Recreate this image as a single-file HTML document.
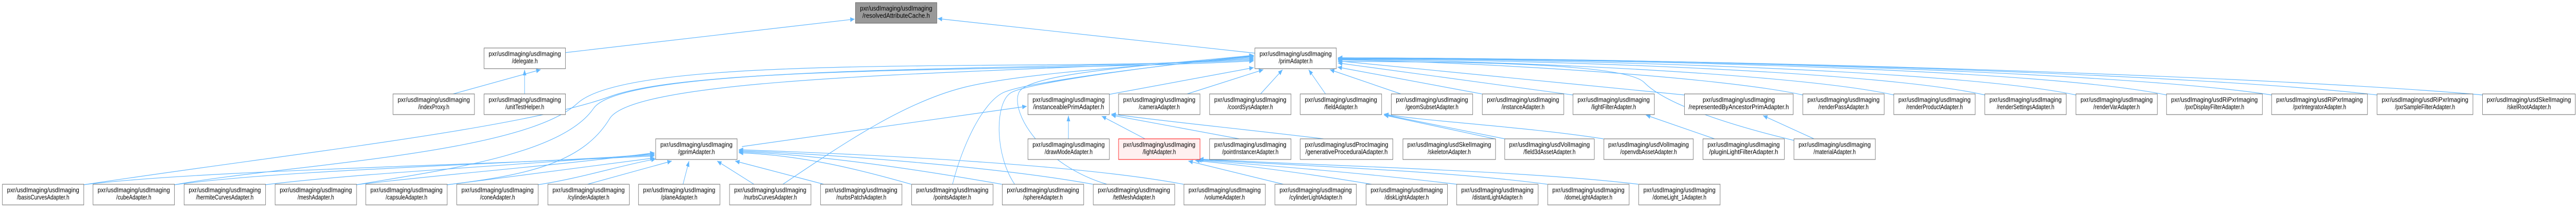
<!DOCTYPE html>
<html><head><meta charset="utf-8"><style>
html,body{margin:0;padding:0;background:#fff;width:100%;height:100%;overflow:hidden;}
svg{display:block;width:100vw;height:100vh;}
text{font-family:"Liberation Sans","DejaVu Sans",sans-serif;font-size:13px;fill:#000;}
.n{fill:#fff;stroke:#666;stroke-width:1;}
.e{fill:none;stroke:#63b8ff;stroke-width:1.2;}
</style></head><body>
<svg viewBox="0 0 6423 403" preserveAspectRatio="none" xmlns="http://www.w3.org/2000/svg">
<defs><marker id="a" markerUnits="userSpaceOnUse" markerWidth="12" markerHeight="10" refX="11" refY="4.5" orient="auto"><path d="M0,0 L11,4.5 L0,9 Z" fill="#63b8ff"/></marker></defs>
<g class="e" marker-end="url(#a)">
<path d="M1409,102 L2131,37"/>
<path d="M3129,103 L2338,36"/>
<path d="M1130,182 L1348,135"/>
<path d="M1308,182 L1308,135"/>
<path d="M2765,183 L3126,131"/>
<path d="M2960,182 L3150,135"/>
<path d="M3143,182 L3198,135"/>
<path d="M3305,182 L3263,135"/>
<path d="M3493,182 L3316,135"/>
<path d="M3695,182 L3335,130"/>
<path d="M3922,184 L3336,122"/>
<path d="M4200,184 L3336,118"/>
<path d="M4495,184 C4300,150 3700,120 3336,116"/>
<path d="M4722,184 C4500,145 3800,118 3336,115"/>
<path d="M4949,184 C4700,140 3900,116 3336,114"/>
<path d="M5176,184 C4900,138 4000,115 3336,113"/>
<path d="M5402,184 C5100,135 4100,114 3336,113"/>
<path d="M5664,184 C5300,140 4200,113 3336,112"/>
<path d="M5927,184 C5500,145 4300,113 3336,112"/>
<path d="M6190,184 C5700,150 4400,114 3336,112"/>
<path d="M1850,284 L2560,206"/>
<path d="M4473,272 C4300,240 4150,200 4100,160 S3600,120 3336,119"/>
<path d="M208,358 C700,300 1300,250 1521,187 S2600,140 3126,118"/>
<path d="M435,358 C700,320 1300,300 1440,200 S2600,140 3126,116"/>
<path d="M888,358 C1100,330 1400,300 1480,210 S2600,140 3126,114"/>
<path d="M1115,358 C1300,340 1450,320 1520,230 S2600,142 3126,112"/>
<path d="M1952,357 C2100,280 2250,200 2400,170 S2900,125 3126,110"/>
<path d="M2375,357 C2400,280 2450,200 2500,180 S2900,125 3126,109"/>
<path d="M2530,357 C2480,300 2480,200 2520,180 S2900,125 3126,108"/>
<path d="M2760,357 C2600,320 2520,220 2540,180 S2900,125 3126,107"/>
<path d="M208,358 C500,330 1200,320 1632,302"/>
<path d="M435,358 C700,330 1200,320 1632,300"/>
<path d="M661,358 C900,335 1300,320 1632,298"/>
<path d="M888,358 C1100,338 1400,320 1632,296"/>
<path d="M1115,358 C1300,340 1500,320 1632,306"/>
<path d="M1341,358 C1450,345 1550,320 1635,308"/>
<path d="M1465,357 L1675,312"/>
<path d="M1703,357 L1718,312"/>
<path d="M1880,357 L1788,312"/>
<path d="M2054,357 L1833,312"/>
<path d="M2272,357 C2150,330 2000,300 1842,296"/>
<path d="M2498,357 C2300,330 2050,300 1842,294"/>
<path d="M2725,357 C2500,325 2100,300 1842,292"/>
<path d="M2951,357 C2700,320 2200,300 1842,290"/>
<path d="M2664,269 L2664,224"/>
<path d="M2855,269 L2747,225"/>
<path d="M3090,269 L2771,223"/>
<path d="M3300,269 C3100,250 2900,235 2771,221"/>
<path d="M3200,357 L2963,312"/>
<path d="M3420,357 C3250,335 3100,320 2980,311"/>
<path d="M3632,357 C3400,335 3150,320 2985,310"/>
<path d="M3858,357 C3600,330 3200,320 2988,309"/>
<path d="M4085,357 C3800,330 3250,320 2990,308"/>
<path d="M3727,269 L3451,223"/>
<path d="M3752,269 L3451,222"/>
<path d="M3998,269 C3800,245 3550,235 3451,221"/>
<path d="M4275,269 L4104,223"/>
<path d="M4523,269 L4396,224"/>
</g>
<g>
<rect x="2133" y="5" width="203" height="40" fill="#999" stroke="#666"/>
<text x="2234.5" y="20.5" text-anchor="middle" textLength="180" lengthAdjust="spacingAndGlyphs">pxr/usdImaging/usdImaging</text>
<text x="2234.5" y="34.5" text-anchor="middle" textLength="168" lengthAdjust="spacingAndGlyphs">/resolvedAttributeCache.h</text>

<rect class="n" x="1207" y="93" width="203" height="40"/><text x="1308.5" y="108.5" text-anchor="middle" textLength="180" lengthAdjust="spacingAndGlyphs">pxr/usdImaging/usdImaging</text><text x="1308.5" y="122.5" text-anchor="middle">/delegate.h</text>
<rect class="n" x="3129" y="93" width="203" height="40"/><text x="3230.5" y="108.5" text-anchor="middle" textLength="180" lengthAdjust="spacingAndGlyphs">pxr/usdImaging/usdImaging</text><text x="3230.5" y="122.5" text-anchor="middle">/primAdapter.h</text>

<rect class="n" x="980" y="182" width="203" height="40"/><text x="1081.5" y="197.5" text-anchor="middle" textLength="180" lengthAdjust="spacingAndGlyphs">pxr/usdImaging/usdImaging</text><text x="1081.5" y="211.5" text-anchor="middle">/indexProxy.h</text>
<rect class="n" x="1207" y="182" width="203" height="40"/><text x="1308.5" y="197.5" text-anchor="middle" textLength="180" lengthAdjust="spacingAndGlyphs">pxr/usdImaging/usdImaging</text><text x="1308.5" y="211.5" text-anchor="middle">/unitTestHelper.h</text>
<rect class="n" x="2563" y="182" width="203" height="40"/><text x="2664.5" y="197.5" text-anchor="middle" textLength="180" lengthAdjust="spacingAndGlyphs">pxr/usdImaging/usdImaging</text><text x="2664.5" y="211.5" text-anchor="middle" textLength="177" lengthAdjust="spacingAndGlyphs">/instanceablePrimAdapter.h</text>
<rect class="n" x="2789" y="182" width="203" height="40"/><text x="2890.5" y="197.5" text-anchor="middle" textLength="180" lengthAdjust="spacingAndGlyphs">pxr/usdImaging/usdImaging</text><text x="2890.5" y="211.5" text-anchor="middle">/cameraAdapter.h</text>
<rect class="n" x="3016" y="182" width="203" height="40"/><text x="3117.5" y="197.5" text-anchor="middle" textLength="180" lengthAdjust="spacingAndGlyphs">pxr/usdImaging/usdImaging</text><text x="3117.5" y="211.5" text-anchor="middle">/coordSysAdapter.h</text>
<rect class="n" x="3242" y="182" width="203" height="40"/><text x="3343.5" y="197.5" text-anchor="middle" textLength="180" lengthAdjust="spacingAndGlyphs">pxr/usdImaging/usdImaging</text><text x="3343.5" y="211.5" text-anchor="middle">/fieldAdapter.h</text>
<rect class="n" x="3469" y="182" width="203" height="40"/><text x="3570.5" y="197.5" text-anchor="middle" textLength="180" lengthAdjust="spacingAndGlyphs">pxr/usdImaging/usdImaging</text><text x="3570.5" y="211.5" text-anchor="middle">/geomSubsetAdapter.h</text>
<rect class="n" x="3696" y="182" width="203" height="40"/><text x="3797.5" y="197.5" text-anchor="middle" textLength="180" lengthAdjust="spacingAndGlyphs">pxr/usdImaging/usdImaging</text><text x="3797.5" y="211.5" text-anchor="middle">/instanceAdapter.h</text>
<rect class="n" x="3922" y="182" width="203" height="40"/><text x="4023.5" y="197.5" text-anchor="middle" textLength="180" lengthAdjust="spacingAndGlyphs">pxr/usdImaging/usdImaging</text><text x="4023.5" y="211.5" text-anchor="middle">/lightFilterAdapter.h</text>
<rect class="n" x="4200" y="182" width="271" height="40"/><text x="4335.5" y="197.5" text-anchor="middle" textLength="180" lengthAdjust="spacingAndGlyphs">pxr/usdImaging/usdImaging</text><text x="4335.5" y="211.5" text-anchor="middle" textLength="250" lengthAdjust="spacingAndGlyphs">/representedByAncestorPrimAdapter.h</text>
<rect class="n" x="4495" y="182" width="203" height="40"/><text x="4596.5" y="197.5" text-anchor="middle" textLength="180" lengthAdjust="spacingAndGlyphs">pxr/usdImaging/usdImaging</text><text x="4596.5" y="211.5" text-anchor="middle">/renderPassAdapter.h</text>
<rect class="n" x="4722" y="182" width="203" height="40"/><text x="4823.5" y="197.5" text-anchor="middle" textLength="180" lengthAdjust="spacingAndGlyphs">pxr/usdImaging/usdImaging</text><text x="4823.5" y="211.5" text-anchor="middle">/renderProductAdapter.h</text>
<rect class="n" x="4949" y="182" width="203" height="40"/><text x="5050.5" y="197.5" text-anchor="middle" textLength="180" lengthAdjust="spacingAndGlyphs">pxr/usdImaging/usdImaging</text><text x="5050.5" y="211.5" text-anchor="middle">/renderSettingsAdapter.h</text>
<rect class="n" x="5176" y="182" width="203" height="40"/><text x="5277.5" y="197.5" text-anchor="middle" textLength="180" lengthAdjust="spacingAndGlyphs">pxr/usdImaging/usdImaging</text><text x="5277.5" y="211.5" text-anchor="middle">/renderVarAdapter.h</text>
<rect class="n" x="5402" y="182" width="239" height="40"/><text x="5521.5" y="197.5" text-anchor="middle" textLength="216" lengthAdjust="spacingAndGlyphs">pxr/usdImaging/usdRiPxrImaging</text><text x="5521.5" y="211.5" text-anchor="middle">/pxrDisplayFilterAdapter.h</text>
<rect class="n" x="5664" y="182" width="239" height="40"/><text x="5783.5" y="197.5" text-anchor="middle" textLength="216" lengthAdjust="spacingAndGlyphs">pxr/usdImaging/usdRiPxrImaging</text><text x="5783.5" y="211.5" text-anchor="middle">/pxrIntegratorAdapter.h</text>
<rect class="n" x="5927" y="182" width="239" height="40"/><text x="6046.5" y="197.5" text-anchor="middle" textLength="216" lengthAdjust="spacingAndGlyphs">pxr/usdImaging/usdRiPxrImaging</text><text x="6046.5" y="211.5" text-anchor="middle">/pxrSampleFilterAdapter.h</text>
<rect class="n" x="6190" y="182" width="231" height="40"/><text x="6305.5" y="197.5" text-anchor="middle" textLength="210" lengthAdjust="spacingAndGlyphs">pxr/usdImaging/usdSkelImaging</text><text x="6305.5" y="211.5" text-anchor="middle">/skelRootAdapter.h</text>

<rect class="n" x="1635" y="269" width="203" height="40"/><text x="1736.5" y="284.5" text-anchor="middle" textLength="180" lengthAdjust="spacingAndGlyphs">pxr/usdImaging/usdImaging</text><text x="1736.5" y="298.5" text-anchor="middle">/gprimAdapter.h</text>
<rect class="n" x="2563" y="269" width="203" height="40"/><text x="2664.5" y="284.5" text-anchor="middle" textLength="180" lengthAdjust="spacingAndGlyphs">pxr/usdImaging/usdImaging</text><text x="2664.5" y="298.5" text-anchor="middle">/drawModeAdapter.h</text>
<rect x="2789" y="269" width="203" height="40" fill="#fff0f0" stroke="#f00"/><text x="2890.5" y="284.5" text-anchor="middle" textLength="180" lengthAdjust="spacingAndGlyphs">pxr/usdImaging/usdImaging</text><text x="2890.5" y="298.5" text-anchor="middle">/lightAdapter.h</text>
<rect class="n" x="3016" y="269" width="203" height="40"/><text x="3117.5" y="284.5" text-anchor="middle" textLength="180" lengthAdjust="spacingAndGlyphs">pxr/usdImaging/usdImaging</text><text x="3117.5" y="298.5" text-anchor="middle">/pointInstancerAdapter.h</text>
<rect class="n" x="3242" y="269" width="231" height="40"/><text x="3357.5" y="284.5" text-anchor="middle" textLength="208" lengthAdjust="spacingAndGlyphs">pxr/usdImaging/usdProcImaging</text><text x="3357.5" y="298.5" text-anchor="middle" textLength="205" lengthAdjust="spacingAndGlyphs">/generativeProceduralAdapter.h</text>
<rect class="n" x="3498" y="269" width="231" height="40"/><text x="3613.5" y="284.5" text-anchor="middle" textLength="209" lengthAdjust="spacingAndGlyphs">pxr/usdImaging/usdSkelImaging</text><text x="3613.5" y="298.5" text-anchor="middle">/skeletonAdapter.h</text>
<rect class="n" x="3752" y="269" width="223" height="40"/><text x="3863.5" y="284.5" text-anchor="middle" textLength="201" lengthAdjust="spacingAndGlyphs">pxr/usdImaging/usdVolImaging</text><text x="3863.5" y="298.5" text-anchor="middle">/field3dAssetAdapter.h</text>
<rect class="n" x="3999" y="269" width="223" height="40"/><text x="4110.5" y="284.5" text-anchor="middle" textLength="201" lengthAdjust="spacingAndGlyphs">pxr/usdImaging/usdVolImaging</text><text x="4110.5" y="298.5" text-anchor="middle">/openvdbAssetAdapter.h</text>
<rect class="n" x="4246" y="269" width="203" height="40"/><text x="4347.5" y="284.5" text-anchor="middle" textLength="180" lengthAdjust="spacingAndGlyphs">pxr/usdImaging/usdImaging</text><text x="4347.5" y="298.5" text-anchor="middle" textLength="172" lengthAdjust="spacingAndGlyphs">/pluginLightFilterAdapter.h</text>
<rect class="n" x="4473" y="269" width="203" height="40"/><text x="4574.5" y="284.5" text-anchor="middle" textLength="180" lengthAdjust="spacingAndGlyphs">pxr/usdImaging/usdImaging</text><text x="4574.5" y="298.5" text-anchor="middle">/materialAdapter.h</text>

<rect class="n" x="6" y="357" width="203" height="40"/><text x="107.5" y="372.5" text-anchor="middle" textLength="180" lengthAdjust="spacingAndGlyphs">pxr/usdImaging/usdImaging</text><text x="107.5" y="386.5" text-anchor="middle">/basisCurvesAdapter.h</text>
<rect class="n" x="232" y="357" width="203" height="40"/><text x="333.5" y="372.5" text-anchor="middle" textLength="180" lengthAdjust="spacingAndGlyphs">pxr/usdImaging/usdImaging</text><text x="333.5" y="386.5" text-anchor="middle">/cubeAdapter.h</text>
<rect class="n" x="459" y="357" width="203" height="40"/><text x="560.5" y="372.5" text-anchor="middle" textLength="180" lengthAdjust="spacingAndGlyphs">pxr/usdImaging/usdImaging</text><text x="560.5" y="386.5" text-anchor="middle">/hermiteCurvesAdapter.h</text>
<rect class="n" x="686" y="357" width="203" height="40"/><text x="787.5" y="372.5" text-anchor="middle" textLength="180" lengthAdjust="spacingAndGlyphs">pxr/usdImaging/usdImaging</text><text x="787.5" y="386.5" text-anchor="middle">/meshAdapter.h</text>
<rect class="n" x="912" y="357" width="203" height="40"/><text x="1013.5" y="372.5" text-anchor="middle" textLength="180" lengthAdjust="spacingAndGlyphs">pxr/usdImaging/usdImaging</text><text x="1013.5" y="386.5" text-anchor="middle">/capsuleAdapter.h</text>
<rect class="n" x="1139" y="357" width="203" height="40"/><text x="1240.5" y="372.5" text-anchor="middle" textLength="180" lengthAdjust="spacingAndGlyphs">pxr/usdImaging/usdImaging</text><text x="1240.5" y="386.5" text-anchor="middle">/coneAdapter.h</text>
<rect class="n" x="1366" y="357" width="203" height="40"/><text x="1467.5" y="372.5" text-anchor="middle" textLength="180" lengthAdjust="spacingAndGlyphs">pxr/usdImaging/usdImaging</text><text x="1467.5" y="386.5" text-anchor="middle">/cylinderAdapter.h</text>
<rect class="n" x="1592" y="357" width="203" height="40"/><text x="1693.5" y="372.5" text-anchor="middle" textLength="180" lengthAdjust="spacingAndGlyphs">pxr/usdImaging/usdImaging</text><text x="1693.5" y="386.5" text-anchor="middle">/planeAdapter.h</text>
<rect class="n" x="1819" y="357" width="203" height="40"/><text x="1920.5" y="372.5" text-anchor="middle" textLength="180" lengthAdjust="spacingAndGlyphs">pxr/usdImaging/usdImaging</text><text x="1920.5" y="386.5" text-anchor="middle">/nurbsCurvesAdapter.h</text>
<rect class="n" x="2046" y="357" width="203" height="40"/><text x="2147.5" y="372.5" text-anchor="middle" textLength="180" lengthAdjust="spacingAndGlyphs">pxr/usdImaging/usdImaging</text><text x="2147.5" y="386.5" text-anchor="middle">/nurbsPatchAdapter.h</text>
<rect class="n" x="2273" y="357" width="203" height="40"/><text x="2374.5" y="372.5" text-anchor="middle" textLength="180" lengthAdjust="spacingAndGlyphs">pxr/usdImaging/usdImaging</text><text x="2374.5" y="386.5" text-anchor="middle">/pointsAdapter.h</text>
<rect class="n" x="2499" y="357" width="203" height="40"/><text x="2600.5" y="372.5" text-anchor="middle" textLength="180" lengthAdjust="spacingAndGlyphs">pxr/usdImaging/usdImaging</text><text x="2600.5" y="386.5" text-anchor="middle">/sphereAdapter.h</text>
<rect class="n" x="2726" y="357" width="203" height="40"/><text x="2827.5" y="372.5" text-anchor="middle" textLength="180" lengthAdjust="spacingAndGlyphs">pxr/usdImaging/usdImaging</text><text x="2827.5" y="386.5" text-anchor="middle">/tetMeshAdapter.h</text>
<rect class="n" x="2952" y="357" width="203" height="40"/><text x="3053.5" y="372.5" text-anchor="middle" textLength="180" lengthAdjust="spacingAndGlyphs">pxr/usdImaging/usdImaging</text><text x="3053.5" y="386.5" text-anchor="middle">/volumeAdapter.h</text>
<rect class="n" x="3179" y="357" width="203" height="40"/><text x="3280.5" y="372.5" text-anchor="middle" textLength="180" lengthAdjust="spacingAndGlyphs">pxr/usdImaging/usdImaging</text><text x="3280.5" y="386.5" text-anchor="middle">/cylinderLightAdapter.h</text>
<rect class="n" x="3406" y="357" width="203" height="40"/><text x="3507.5" y="372.5" text-anchor="middle" textLength="180" lengthAdjust="spacingAndGlyphs">pxr/usdImaging/usdImaging</text><text x="3507.5" y="386.5" text-anchor="middle">/diskLightAdapter.h</text>
<rect class="n" x="3632" y="357" width="203" height="40"/><text x="3733.5" y="372.5" text-anchor="middle" textLength="180" lengthAdjust="spacingAndGlyphs">pxr/usdImaging/usdImaging</text><text x="3733.5" y="386.5" text-anchor="middle">/distantLightAdapter.h</text>
<rect class="n" x="3859" y="357" width="203" height="40"/><text x="3960.5" y="372.5" text-anchor="middle" textLength="180" lengthAdjust="spacingAndGlyphs">pxr/usdImaging/usdImaging</text><text x="3960.5" y="386.5" text-anchor="middle">/domeLightAdapter.h</text>
<rect class="n" x="4086" y="357" width="203" height="40"/><text x="4187.5" y="372.5" text-anchor="middle" textLength="180" lengthAdjust="spacingAndGlyphs">pxr/usdImaging/usdImaging</text><text x="4187.5" y="386.5" text-anchor="middle">/domeLight_1Adapter.h</text>
</g>
</svg>
</body></html>
